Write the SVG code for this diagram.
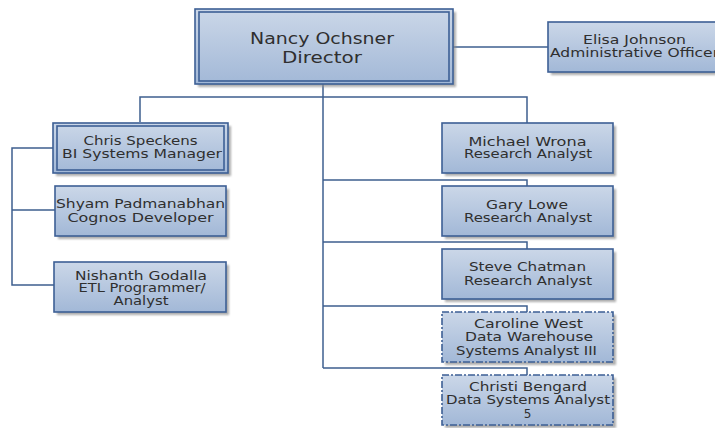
<svg xmlns="http://www.w3.org/2000/svg" width="715" height="428" viewBox="0 0 715 428">
<defs>
<linearGradient id="fill" x1="0" y1="0" x2="0" y2="1">
<stop offset="0" stop-color="#cbd7e8"/>
<stop offset="1" stop-color="#a2b8d7"/>
</linearGradient>
<filter id="sh" x="-10%" y="-10%" width="130%" height="140%">
<feGaussianBlur stdDeviation="1"/>
</filter>
</defs>
<style>
.shadow{fill:#8c8c8c;opacity:0.7;filter:url(#sh)}
.box{fill:url(#fill);stroke:#3d5f95;stroke-width:1.6}
.inner{fill:none;stroke:#3d5f95;stroke-width:1.6}
.dash{stroke-dasharray:7 2 2 2}
.t{font-family:"DejaVu Sans",sans-serif;font-size:12px;fill:#2f2f2f;text-anchor:middle}
.td{font-family:"DejaVu Sans",sans-serif;font-size:15px;fill:#2f2f2f;text-anchor:middle}
.c{fill:none;stroke:#3e5f8f;stroke-width:1.5}
</style>
<rect width="715" height="428" fill="#ffffff"/>
<g id="connectors">
<path class="c" d="M323 84V368"/>
<path class="c" d="M140 122V97H527V123"/>
<path class="c" d="M323 180H527V186"/>
<path class="c" d="M323 242H527V249"/>
<path class="c" d="M323 306H527V312"/>
<path class="c" d="M323 368H527V375"/>
<path class="c" d="M453 47H548"/>
<path class="c" d="M53 148H12V285H54M12 210H55"/>
</g>
<g id="director">
<rect class="shadow" x="198" y="12" width="258" height="75"/>
<rect class="box" x="195" y="9" width="258" height="75"/>
<rect class="inner" x="199" y="12" width="250" height="69"/>
<text class="td" x="322" y="44" textLength="144" lengthAdjust="spacingAndGlyphs">Nancy Ochsner</text>
<text class="td" x="322" y="63" textLength="80" lengthAdjust="spacingAndGlyphs">Director</text>
</g>
<g id="elisa">
<rect class="shadow" x="551" y="25" width="170" height="50"/>
<rect class="box" x="548" y="22" width="175" height="50"/>
<text class="t" x="634.5" y="44" textLength="103" lengthAdjust="spacingAndGlyphs">Elisa Johnson</text>
<text class="t" x="634.5" y="57" textLength="169" lengthAdjust="spacingAndGlyphs">Administrative Officer</text>
</g>
<g id="chris">
<rect class="shadow" x="56" y="126" width="175" height="50"/>
<rect class="box" x="53" y="123" width="175" height="50"/>
<rect class="inner" x="57" y="126" width="167" height="44"/>
<text class="t" x="140.5" y="144.5" textLength="114" lengthAdjust="spacingAndGlyphs">Chris Speckens</text>
<text class="t" x="142" y="158" textLength="160" lengthAdjust="spacingAndGlyphs">BI Systems Manager</text>
</g>
<g id="shyam">
<rect class="shadow" x="58" y="189" width="171" height="50"/>
<rect class="box" x="55" y="186" width="171" height="50"/>
<text class="t" x="140.5" y="207.5" textLength="169" lengthAdjust="spacingAndGlyphs">Shyam Padmanabhan</text>
<text class="t" x="140.5" y="221.5" textLength="146" lengthAdjust="spacingAndGlyphs">Cognos Developer</text>
</g>
<g id="nishanth">
<rect class="shadow" x="57" y="265" width="172" height="50"/>
<rect class="box" x="54" y="262" width="172" height="50"/>
<text class="t" x="141" y="279.5" textLength="132" lengthAdjust="spacingAndGlyphs">Nishanth Godalla</text>
<text class="t" x="142" y="292" textLength="127" lengthAdjust="spacingAndGlyphs">ETL Programmer/</text>
<text class="t" x="141" y="304.5" textLength="55" lengthAdjust="spacingAndGlyphs">Analyst</text>
</g>
<g id="michael">
<rect class="shadow" x="445" y="126" width="171" height="50"/>
<rect class="box" x="442" y="123" width="171" height="50"/>
<text class="t" x="527.5" y="145.5" textLength="118" lengthAdjust="spacingAndGlyphs">Michael Wrona</text>
<text class="t" x="528" y="158" textLength="128" lengthAdjust="spacingAndGlyphs">Research Analyst</text>
</g>
<g id="gary">
<rect class="shadow" x="445" y="189" width="171" height="50"/>
<rect class="box" x="442" y="186" width="171" height="50"/>
<text class="t" x="527" y="208.5" textLength="82" lengthAdjust="spacingAndGlyphs">Gary Lowe</text>
<text class="t" x="528" y="221.5" textLength="128" lengthAdjust="spacingAndGlyphs">Research Analyst</text>
</g>
<g id="steve">
<rect class="shadow" x="445" y="252" width="171" height="50"/>
<rect class="box" x="442" y="249" width="171" height="50"/>
<text class="t" x="527.5" y="271" textLength="117" lengthAdjust="spacingAndGlyphs">Steve Chatman</text>
<text class="t" x="528" y="285" textLength="128" lengthAdjust="spacingAndGlyphs">Research Analyst</text>
</g>
<g id="caroline">
<rect class="shadow" x="445" y="315" width="171" height="50"/>
<rect class="box dash" x="442" y="312" width="171" height="50"/>
<text class="t" x="528.5" y="327.5" textLength="109" lengthAdjust="spacingAndGlyphs">Caroline West</text>
<text class="t" x="529" y="341" textLength="128" lengthAdjust="spacingAndGlyphs">Data Warehouse</text>
<text class="t" x="526.5" y="354.5" textLength="141" lengthAdjust="spacingAndGlyphs">Systems Analyst III</text>
</g>
<g id="christi">
<rect class="shadow" x="445" y="378" width="171" height="50"/>
<rect class="box dash" x="442" y="375" width="171" height="50"/>
<text class="t" x="528" y="391" textLength="118" lengthAdjust="spacingAndGlyphs">Christi Bengard</text>
<text class="t" x="528" y="404" textLength="164" lengthAdjust="spacingAndGlyphs">Data Systems Analyst</text>
<text class="t" x="527.5" y="417.5">5</text>
</g>
</svg>
